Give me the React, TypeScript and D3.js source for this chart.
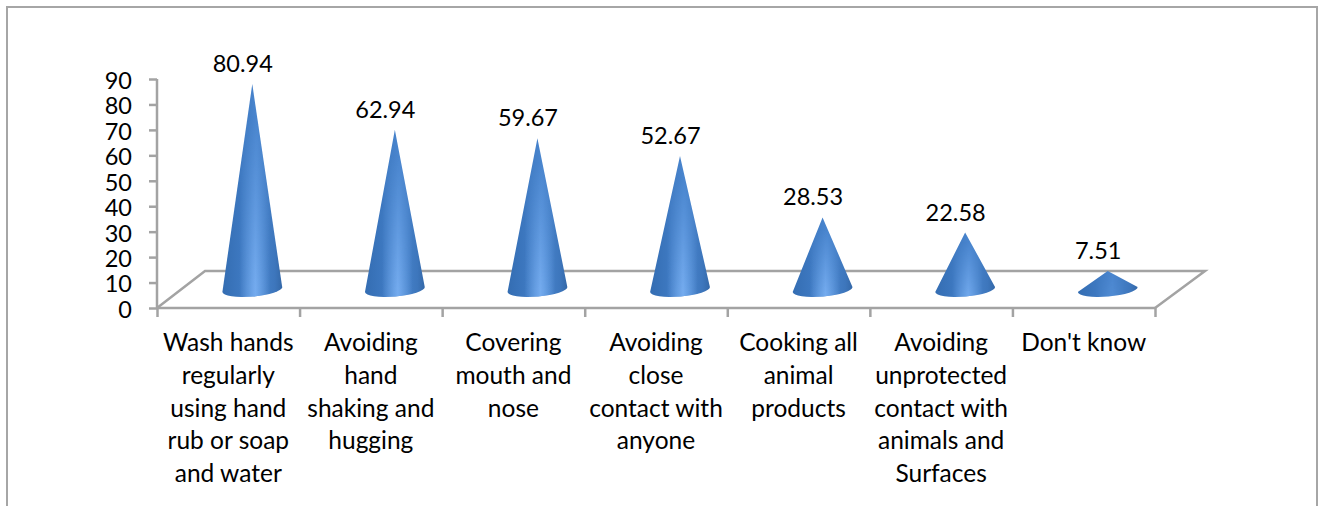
import React, { useEffect, useRef } from "react";
import * as d3 from "d3";

const categories: string[][] = [
  ["Wash hands", "regularly", "using hand", "rub or soap", "and water"],
  ["Avoiding", "hand", "shaking and", "hugging"],
  ["Covering", "mouth and", "nose"],
  ["Avoiding", "close", "contact with", "anyone"],
  ["Cooking all", "animal", "products"],
  ["Avoiding", "unprotected", "contact with", "animals and", "Surfaces"],
  ["Don't know"],
];
const values = [80.94, 62.94, 59.67, 52.67, 28.53, 22.58, 7.51];
const valueTicks = [0, 10, 20, 30, 40, 50, 60, 70, 80, 90];

const FONT = "Lato, sans-serif";
const AXIS = "#a3a3a3";
const DEPTH_X = 48;
const DEPTH_Y = 37;

// Front edge of the floor and the value axis.
const x = d3.scaleLinear().domain([0, values.length]).range([157, 1155]);
const y = d3.scaleLinear().domain([0, 90]).range([308, 79]);

// The sheen along a cone's flank fades out on very short cones.
const sheen = d3.scaleLinear().domain([6, 25]).range([0.1, 1]).clamp(true);

// Cones stand midway across the floor's depth.
const coneX = (i: number) => x(i + 0.5) + DEPTH_X / 2;
const coneBaseY = y(0) - 18.5;

function conePath(i: number, v: number) {
  const cx = coneX(i);
  const apexY = y(v) - 18;
  const rx = 30;
  const ry = 7;
  const tilt = -4.8;
  const t = (tilt * Math.PI) / 180;
  const dx = rx * Math.cos(t);
  const dy = rx * Math.sin(t);
  return `M${cx},${apexY}L${cx - dx},${coneBaseY - dy}A${rx},${ry} ${tilt} 0 0 ${cx + dx},${coneBaseY + dy}Z`;
}

export default function App() {
  const yAxis = useRef<SVGGElement>(null);
  const xAxis = useRef<SVGGElement>(null);

  useEffect(() => {
    const left = d3.select(yAxis.current!);
    left.call(d3.axisLeft(y).tickValues(valueTicks).tickSize(8).tickPadding(17) as any);
    left.selectAll("path,line").attr("stroke", AXIS).attr("stroke-width", 2.5);
    left.select(".domain").attr("d", `M0,${y(90)}V${y(0)}`);
    left.selectAll("text")
      .attr("font-family", FONT)
      .attr("font-size", 23.5)
      .attr("fill", "#000")
      .attr("dy", "0.4em");

    const bottom = d3.select(xAxis.current!);
    bottom.call(
      d3.axisBottom(x).tickValues(d3.range(values.length + 1)).tickSize(9).tickFormat(() => "") as any
    );
    bottom.selectAll("path,line").attr("stroke", AXIS).attr("stroke-width", 2.5);
    bottom.select(".domain").attr("d", `M${x(0)},0H${x(values.length)}`);
  }, []);

  const backL = x(0) + DEPTH_X;
  const backR = x(values.length) + 50;
  const backY = y(0) - DEPTH_Y;

  return (
    <svg
      width={1322}
      height={506}
      style={{ position: "absolute", left: 0, top: 0, background: "#fff" }}
    >
      <defs>
        <linearGradient id="coneFill" x1="0" x2="1" y1="0" y2="0">
          <stop offset="0" stopColor="#346db2" />
          <stop offset="0.3" stopColor="#3d78c0" />
          <stop offset="0.58" stopColor="#4a86cf" />
          <stop offset="0.88" stopColor="#3d76bc" />
          <stop offset="1" stopColor="#3468a8" />
        </linearGradient>
        <linearGradient id="coneSheen" x1="0" x2="1" y1="0" y2="0">
          <stop offset="0.28" stopColor="#74abee" stopOpacity={0} />
          <stop offset="0.55" stopColor="#74abee" stopOpacity={1} />
          <stop offset="0.8" stopColor="#74abee" stopOpacity={0} />
        </linearGradient>
        <linearGradient id="coneFade" x1="0" x2="0" y1="0" y2="1">
          <stop offset="0.15" stopColor="#000" />
          <stop offset="0.95" stopColor="#fff" />
        </linearGradient>
        <mask id="coneMask" maskContentUnits="objectBoundingBox">
          <rect width={1} height={1} fill="url(#coneFade)" />
        </mask>
      </defs>

      <path d="M7,506V7H1317V506" fill="none" stroke="#a6a6a6" strokeWidth={2} />

      <path
        d={`M${x(0)},${y(0)}L${backL},${backY}H${backR}L${x(values.length)},${y(0)}`}
        fill="none"
        stroke={AXIS}
        strokeWidth={2.5}
      />
      <g ref={yAxis} transform={`translate(${x(0)},0)`} />
      <g ref={xAxis} transform={`translate(0,${y(0)})`} />

      {values.map((v, i) => (
        <g key={i}>
          <path d={conePath(i, v)} fill="url(#coneFill)" />
          <path
            d={conePath(i, v)}
            fill="url(#coneSheen)"
            fillOpacity={sheen(v)}
            mask="url(#coneMask)"
          />
        </g>
      ))}

      {values.map((v, i) => (
        <text
          key={i}
          x={coneX(i) - 9.5}
          y={y(v) - 30}
          textAnchor="middle"
          fontFamily={FONT}
          fontSize={23.5}
          fill="#000"
        >
          {v.toFixed(2)}
        </text>
      ))}

      {categories.map((lines, i) => (
        <text
          key={i}
          textAnchor="middle"
          fontFamily={FONT}
          fontSize={24.5}
          fill="#000"
        >
          {lines.map((line, j) => (
            <tspan key={j} x={x(i + 0.5)} y={351 + j * 32.8}>
              {line}
            </tspan>
          ))}
        </text>
      ))}
    </svg>
  );
}
